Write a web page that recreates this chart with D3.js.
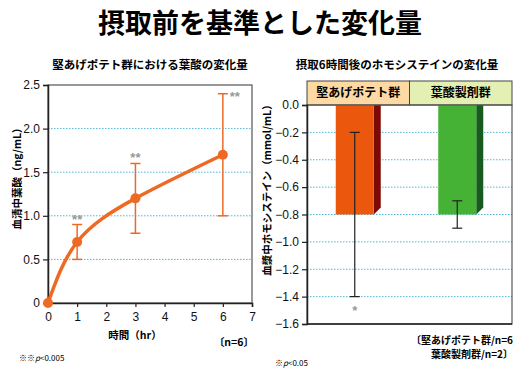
<!DOCTYPE html>
<html>
<head>
<meta charset="utf-8">
<script src="https://cdn.jsdelivr.net/npm/d3@7"></script>
<style>
  body { margin: 0; background: #fff; }
  svg text { font-family: "Noto Sans CJK JP", sans-serif; }
  .num { font-family: "Liberation Sans", Arial, sans-serif; }
</style>
</head>
<body>
<svg id="chart" width="518" height="389"></svg>
<script>
// --- data ---
const hours = [0, 1, 3, 6];
const folate = [0, 0.7, 1.2, 1.7];
const folateLow = [null, 0.5, 0.8, 1.0];
const folateHigh = [null, 0.9, 1.6, 2.4];
const folateSig = ["", "**", "**", "**"];
const leftYTicks = [0, 0.5, 1.0, 1.5, 2.0, 2.5];
const leftXTicks = [0, 1, 2, 3, 4, 5, 6, 7];

const groups = ["堅あげポテト群", "葉酸製剤群"];
const hcy = [-0.8, -0.8];
const hcyLow = [-1.4, -0.9];
const hcyHigh = [-0.2, -0.7];
const hcySig = ["*", ""];
const rightYTicks = [0, -0.2, -0.4, -0.6, -0.8, -1.0, -1.2, -1.4, -1.6];

const orange = "#ee6a24";
const grid = "#4fb6d6";

const svg = d3.select("#chart");

// main title
svg.append("text")
  .attr("x", 260).attr("y", 33)
  .attr("text-anchor", "middle")
  .style("font-size", "27px").style("font-weight", "bold")
  .text("摂取前を基準とした変化量");

// ===== left chart =====
const L = { left: 48, right: 252, top: 85, bottom: 303 };
const x = d3.scaleLinear().domain([0, 7]).range([L.left, L.right]);
const y = d3.scaleLinear().domain([0, 2.5]).range([L.bottom, L.top]);

svg.append("text")
  .attr("x", 150).attr("y", 69)
  .attr("text-anchor", "middle")
  .style("font-size", "11.5px").style("font-weight", "bold")
  .text("堅あげポテト群における葉酸の変化量");

// grid
svg.append("g").selectAll("line")
  .data(leftYTicks.filter(d => d > 0 && d < 2.5))
  .enter().append("line")
  .attr("x1", L.left).attr("x2", L.right)
  .attr("y1", d => y(d)).attr("y2", d => y(d))
  .attr("stroke", grid).attr("stroke-width", 1)
  .attr("stroke-dasharray", "1.5,1.5");

// frame
svg.append("rect")
  .attr("x", L.left).attr("y", L.top)
  .attr("width", L.right - L.left).attr("height", L.bottom - L.top)
  .attr("fill", "none").attr("stroke", "#555").attr("stroke-width", 1.2);

const yAxisL = svg.append("g")
  .attr("transform", `translate(${L.left},0)`)
  .call(d3.axisLeft(y).tickValues(leftYTicks).tickSize(5)
    .tickFormat(d => d === 0 ? "0" : d3.format(".1f")(d)));
const xAxisL = svg.append("g")
  .attr("transform", `translate(0,${L.bottom})`)
  .call(d3.axisBottom(x).tickValues(leftXTicks).tickSize(4).tickFormat(d3.format("d")));
[yAxisL, xAxisL].forEach(g => {
  g.select(".domain").attr("stroke", "#222").attr("stroke-width", 1.5);
  g.selectAll(".tick line").attr("stroke", "#222").attr("stroke-width", 1.2);
  g.selectAll(".tick text").attr("class", "num")
    .style("font-size", "12px").attr("fill", "#111");
});
xAxisL.selectAll(".tick text").attr("dy", "0.95em");

// error bars
const pts = hours.map((h, i) => ({ h, v: folate[i], lo: folateLow[i], hi: folateHigh[i], sig: folateSig[i] }));
const eb = svg.append("g").attr("stroke", orange).attr("stroke-width", 1.5);
pts.filter(d => d.lo !== null).forEach(d => {
  eb.append("line").attr("x1", x(d.h)).attr("x2", x(d.h)).attr("y1", y(d.lo)).attr("y2", y(d.hi));
  [d.lo, d.hi].forEach(v => {
    eb.append("line").attr("x1", x(d.h) - 5).attr("x2", x(d.h) + 5).attr("y1", y(v)).attr("y2", y(v));
  });
});

// curve
svg.append("path")
  .datum(pts)
  .attr("d", d3.line().x(d => x(d.h)).y(d => y(d.v)).curve(d3.curveNatural))
  .attr("fill", "none").attr("stroke", orange).attr("stroke-width", 3.5);

svg.append("g").selectAll("circle")
  .data(pts).enter().append("circle")
  .attr("cx", d => x(d.h)).attr("cy", d => y(d.v))
  .attr("r", 5).attr("fill", orange);

// significance marks
svg.append("g").selectAll("text")
  .data(pts.filter(d => d.sig))
  .enter().append("text")
  .attr("x", d => d.h === 6 ? x(d.h) + 12 : x(d.h))
  .attr("y", d => d.h === 6 ? y(d.hi) + 7 : y(d.hi) - 1)
  .attr("text-anchor", "middle")
  .attr("class", "num")
  .style("font-size", "13px").style("font-weight", "bold").attr("fill", "#999")
  .text(d => d.sig);

svg.append("text")
  .attr("transform", `translate(21,${(L.top + L.bottom) / 2 - 18}) rotate(-90)`)
  .attr("text-anchor", "middle")
  .style("font-size", "10.5px").style("font-weight", "bold")
  .text("血清中葉酸（ng/mL）");

svg.append("text")
  .attr("x", 135).attr("y", 339)
  .attr("text-anchor", "middle")
  .style("font-size", "10.5px").style("font-weight", "bold")
  .text("時間（hr）");

svg.append("text")
  .attr("x", 254).attr("y", 346)
  .attr("text-anchor", "end")
  .style("font-size", "10.5px").style("font-weight", "bold")
  .text("〔n=6〕");

svg.append("text")
  .attr("x", 19).attr("y", 361)
  .style("font-size", "8px")
  .html('※※<tspan font-style="italic">p</tspan>&lt;0.005');

// ===== right chart =====
const R = { left: 307, right: 512, top: 105, bottom: 324, head: 81 };
const xb = d3.scaleBand().domain(groups).range([R.left, R.right]);
const yb = d3.scaleLinear().domain([-1.6, 0]).range([R.bottom, R.top]);

svg.append("text")
  .attr("x", 397).attr("y", 69)
  .attr("text-anchor", "middle")
  .style("font-size", "11.5px").style("font-weight", "bold")
  .text("摂取6時間後のホモシステインの変化量");

svg.append("g").selectAll("line")
  .data(rightYTicks.filter(d => d < 0 && d > -1.6))
  .enter().append("line")
  .attr("x1", R.left).attr("x2", R.right)
  .attr("y1", d => yb(d)).attr("y2", d => yb(d))
  .attr("stroke", grid).attr("stroke-width", 1)
  .attr("stroke-dasharray", "1.5,1.5");

// header cells
const headFill = ["#fdd9a3", "#e3efb3"];
const head = svg.append("g");
groups.forEach((g, i) => {
  head.append("rect")
    .attr("x", xb(g)).attr("y", R.head)
    .attr("width", xb.bandwidth()).attr("height", R.top - R.head)
    .attr("fill", headFill[i]).attr("stroke", "#444").attr("stroke-width", 1);
  head.append("text")
    .attr("x", xb(g) + xb.bandwidth() / 2).attr("y", R.head + 16)
    .attr("text-anchor", "middle")
    .style("font-size", "12px").style("font-weight", "bold")
    .text(g);
});

// 3d bars
const front = ["#eb570d", "#45b135"];
const side = ["#7e0a06", "#175c1e"];
const bw = 38, depth = 7;
groups.forEach((g, i) => {
  const cx = xb(g) + xb.bandwidth() / 2;
  const x0 = cx - (bw + depth) / 2;
  const y0 = yb(0), y1 = yb(hcy[i]);
  svg.append("path")
    .attr("d", `M${x0 + bw},${y0}L${x0 + bw + depth},${y0}L${x0 + bw + depth},${y1 - depth}L${x0 + bw},${y1}Z`)
    .attr("fill", side[i]);
  svg.append("rect")
    .attr("x", x0).attr("y", y0)
    .attr("width", bw).attr("height", y1 - y0)
    .attr("fill", front[i]);
  // error bar
  const ex = x0 + bw / 2;
  const e = svg.append("g").attr("stroke", "#222").attr("stroke-width", 1.2);
  e.append("line").attr("x1", ex).attr("x2", ex).attr("y1", yb(hcyHigh[i])).attr("y2", yb(hcyLow[i]));
  [hcyHigh[i], hcyLow[i]].forEach(v => {
    e.append("line").attr("x1", ex - 5).attr("x2", ex + 5).attr("y1", yb(v)).attr("y2", yb(v));
  });
  if (hcySig[i]) {
    svg.append("text")
      .attr("x", ex).attr("y", yb(hcyLow[i]) + 18)
      .attr("text-anchor", "middle").attr("class", "num")
      .style("font-size", "13px").style("font-weight", "bold").attr("fill", "#999")
      .text(hcySig[i]);
  }
});

// frame
svg.append("rect")
  .attr("x", R.left).attr("y", R.top)
  .attr("width", R.right - R.left).attr("height", R.bottom - R.top)
  .attr("fill", "none").attr("stroke", "#555").attr("stroke-width", 1.2);

const yAxisR = svg.append("g")
  .attr("transform", `translate(${R.left},0)`)
  .call(d3.axisLeft(yb).tickValues(rightYTicks).tickSize(5)
    .tickFormat(d => d === 0 ? "0.0" : "−" + d3.format(".1f")(-d)));
yAxisR.select(".domain").attr("stroke", "#222").attr("stroke-width", 1.5);
yAxisR.selectAll(".tick line").attr("stroke", "#222").attr("stroke-width", 1.2);
yAxisR.selectAll(".tick text").attr("class", "num")
  .style("font-size", "12px").attr("fill", "#111");
svg.append("line")
  .attr("x1", R.left).attr("x2", R.right)
  .attr("y1", R.bottom).attr("y2", R.bottom)
  .attr("stroke", "#222").attr("stroke-width", 1.5);

svg.append("text")
  .attr("transform", `translate(271,${(R.top + 270) / 2}) rotate(-90)`)
  .attr("text-anchor", "middle")
  .style("font-size", "10.5px").style("font-weight", "bold")
  .text("血漿中ホモシステイン（mmol/mL）");

svg.append("text")
  .attr("x", 513).attr("y", 344)
  .attr("text-anchor", "end")
  .style("font-size", "10px").style("font-weight", "bold")
  .text("〔堅あげポテト群/n=6");
svg.append("text")
  .attr("x", 513).attr("y", 358)
  .attr("text-anchor", "end")
  .style("font-size", "10px").style("font-weight", "bold")
  .text("葉酸製剤群/n=2〕");

svg.append("text")
  .attr("x", 275).attr("y", 366)
  .style("font-size", "8px")
  .html('※<tspan font-style="italic">p</tspan>&lt;0.05');
</script>
</body>
</html>
